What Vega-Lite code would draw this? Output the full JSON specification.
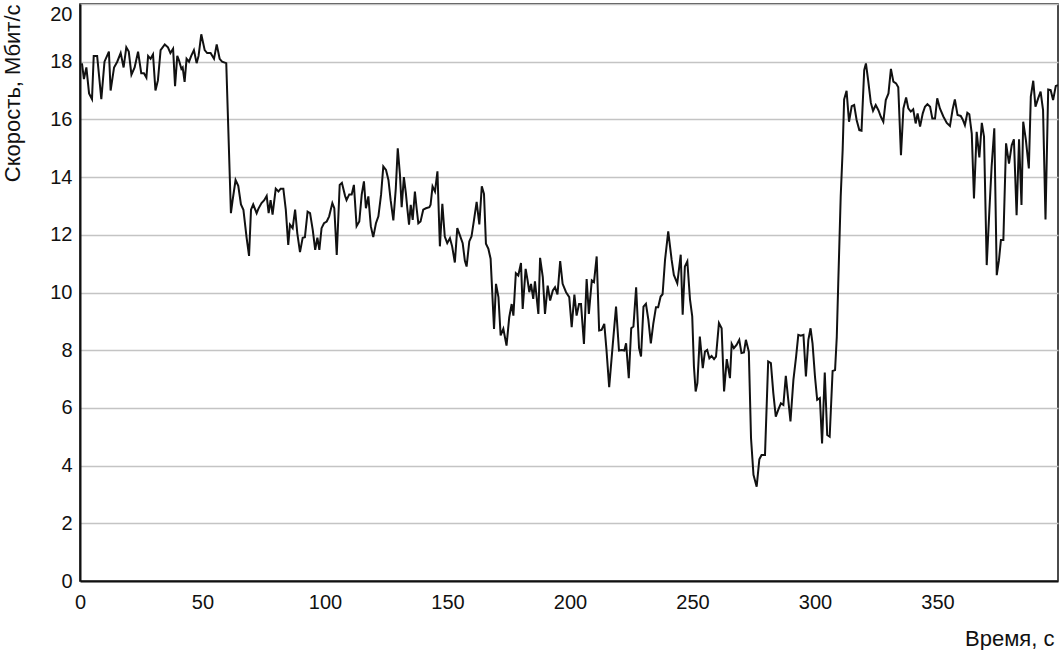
{
  "$schema": "https://vega.github.io/schema/vega-lite/v6.json",
  "width": 978,
  "height": 577,
  "autosize": {"type": "none"},
  "padding": {"left": 80, "top": 4, "right": 3, "bottom": 69},
  "background": "white",
  "config": {
    "view": {"stroke": "#111", "strokeWidth": 1.5},
    "font": "Liberation Sans",
    "axis": {"labelFont": "Liberation Sans", "titleFont": "Liberation Sans", "labelFontSize": 20, "titleFontSize": 22, "labelColor": "#111", "titleColor": "#111", "titleFontWeight": "normal", "ticks": false, "gridColor": "#c4c4c4", "gridWidth": 1.5, "domainColor": "#111", "domainWidth": 2, "labelFlush": false, "labelOverlap": false}
  },
  "data": {"values": [
    {"t":0.8,"v":17.94},{"t":1.6,"v":17.4},{"t":2.6,"v":17.8},{"t":3.7,"v":16.9},{"t":4.9,"v":16.7},{"t":5.6,"v":18.2},{"t":7,"v":18.2},{"t":8.7,"v":16.7},{"t":10,"v":18},{"t":11.8,"v":18.35},{"t":12.5,"v":17},{"t":13.9,"v":17.8},{"t":15.2,"v":18},{"t":16.6,"v":18.3},{"t":17.8,"v":17.8},{"t":18.9,"v":18.5},{"t":19.9,"v":18.35},{"t":21,"v":17.55},{"t":22.3,"v":17.8},{"t":23.7,"v":18.35},{"t":25,"v":17.6},{"t":26.1,"v":17.6},{"t":27.1,"v":17.45},{"t":27.8,"v":18.2},{"t":28.8,"v":18.1},{"t":29.8,"v":18.25},{"t":30.8,"v":17},{"t":31.8,"v":17.35},{"t":32.9,"v":18.4},{"t":34.6,"v":18.6},{"t":35.9,"v":18.5},{"t":36.9,"v":18.3},{"t":38,"v":18.45},{"t":38.8,"v":17.15},{"t":39.7,"v":18.2},{"t":40.4,"v":18.05},{"t":41.4,"v":17.75},{"t":41.9,"v":17.8},{"t":42.7,"v":17.3},{"t":43.5,"v":18.1},{"t":44.5,"v":18},{"t":45.4,"v":18.2},{"t":46.5,"v":18.4},{"t":47.6,"v":17.95},{"t":48.4,"v":18.2},{"t":49.5,"v":18.95},{"t":50.9,"v":18.4},{"t":51.9,"v":18.3},{"t":53.3,"v":18.3},{"t":54.7,"v":18.1},{"t":55.8,"v":18.6},{"t":57,"v":18.1},{"t":58,"v":18},{"t":59.7,"v":17.95},
    {"t":61.6,"v":12.75},{"t":62.3,"v":13.2},{"t":63.5,"v":13.9},{"t":64.6,"v":13.7},{"t":65.7,"v":13.05},{"t":66.7,"v":12.87},{"t":68,"v":11.9},{"t":69,"v":11.27},{"t":69.8,"v":12.87},{"t":70.7,"v":13.05},{"t":72.1,"v":12.75},{"t":72.8,"v":12.9},{"t":74.1,"v":13.1},{"t":75.2,"v":13.2},{"t":76.2,"v":13.35},{"t":77,"v":12.75},{"t":77.8,"v":13.2},{"t":78.6,"v":12.7},{"t":79.9,"v":13.6},{"t":81,"v":13.5},{"t":81.9,"v":13.6},{"t":83,"v":13.6},{"t":84,"v":12.87},{"t":85,"v":11.65},{"t":85.7,"v":12.35},{"t":86.8,"v":12.23},{"t":87.8,"v":12.87},{"t":88.7,"v":12.05},{"t":89.8,"v":11.4},{"t":90.9,"v":11.9},{"t":91.8,"v":11.92},{"t":92.9,"v":12.8},{"t":93.9,"v":12.75},{"t":95,"v":12.17},{"t":96,"v":11.48},{"t":96.9,"v":11.9},{"t":97.7,"v":11.48},{"t":98.6,"v":12.23},{"t":99.6,"v":12.4},{"t":100.7,"v":12.46},{"t":101.7,"v":12.64},{"t":103,"v":13.1},{"t":103.8,"v":12.92},{"t":104.8,"v":11.3},{"t":106,"v":13.73},{"t":106.9,"v":13.8},{"t":108.2,"v":13.35},{"t":108.8,"v":13.2},{"t":109.9,"v":13.4},{"t":110.9,"v":13.4},{"t":111.8,"v":13.73},{"t":112.9,"v":12.3},{"t":114,"v":12.46},{"t":115,"v":13.4},{"t":115.9,"v":13.85},{"t":116.7,"v":12.92},{"t":117.7,"v":13.33},{"t":118.7,"v":12.3},{"t":119.7,"v":11.92},{"t":120.8,"v":12.4},{"t":121.8,"v":12.64},{"t":122.9,"v":13.4},{"t":123.8,"v":14.37},{"t":124.9,"v":14.25},{"t":125.9,"v":13.9},{"t":126.8,"v":13.2},{"t":127.9,"v":12.5},{"t":128.9,"v":13.6},{"t":129.7,"v":15},{"t":130.6,"v":14.08},{"t":131.3,"v":12.96},{"t":132.2,"v":14},{"t":133,"v":13.45},{"t":133.6,"v":12.92},{"t":134.3,"v":12.35},{"t":135,"v":13.04},{"t":135.8,"v":12.52},{"t":136.7,"v":13.5},{"t":137.4,"v":12.92},{"t":138.1,"v":12.4},{"t":139,"v":12.46},{"t":140.1,"v":12.87},{"t":141.2,"v":12.92},{"t":142.6,"v":12.96},{"t":143.1,"v":13.04},{"t":143.9,"v":13.68},{"t":144.9,"v":13.5},{"t":145.9,"v":14.2},{"t":146.9,"v":11.6},{"t":147.9,"v":13.07},{"t":148.9,"v":11.94},{"t":149.9,"v":11.71},{"t":151,"v":11.88},{"t":151.9,"v":11.6},{"t":153,"v":11.04},{"t":154,"v":12.23},{"t":155,"v":12},{"t":156.2,"v":11.71},{"t":157.1,"v":11.1},{"t":157.8,"v":10.9},{"t":158.9,"v":11.77},{"t":159.8,"v":11.94},{"t":160.8,"v":12.5},{"t":161.9,"v":13.14},{"t":163,"v":12.36},{"t":164,"v":13.68},{"t":164.9,"v":13.42},{"t":165.7,"v":11.69},{"t":166.7,"v":11.51},{"t":167.6,"v":11.17},{"t":169,"v":8.74},{"t":169.8,"v":10.3},{"t":170.8,"v":9.84},{"t":171.7,"v":8.51},{"t":172.8,"v":8.74},{"t":174.1,"v":8.16},{"t":175.2,"v":9.14},{"t":176.2,"v":9.6},{"t":176.9,"v":9.2},{"t":177.9,"v":10.67},{"t":178.9,"v":10.59},{"t":180,"v":11.02},{"t":180.7,"v":9.43},{"t":181.9,"v":10.82},{"t":182.7,"v":10.42},{"t":183.4,"v":10.01},{"t":184.1,"v":10.3},{"t":185,"v":9.78},{"t":185.7,"v":10.39},{"t":187.1,"v":9.26},{"t":187.8,"v":11.2},{"t":188.9,"v":10.53},{"t":189.8,"v":9.26},{"t":190.9,"v":10.24},{"t":191.9,"v":9.72},{"t":193,"v":10.07},{"t":193.9,"v":10.18},{"t":194.9,"v":9.93},{"t":196,"v":11.09},{"t":197,"v":10.3},{"t":198.4,"v":10.01},{"t":199.7,"v":9.84},{"t":200.7,"v":8.8},{"t":201.8,"v":9.93},{"t":202.7,"v":9.2},{"t":203.7,"v":9.6},{"t":204.5,"v":9.6},{"t":205.7,"v":8.22},{"t":206.8,"v":10.47},{"t":207.7,"v":9.26},{"t":208.9,"v":10.42},{"t":209.8,"v":10.36},{"t":210.9,"v":11.25},{"t":211.9,"v":8.68},{"t":212.9,"v":8.7},{"t":214,"v":8.91},{"t":214.9,"v":8.01},{"t":216,"v":6.72},{"t":217.4,"v":8.13},{"t":218.8,"v":9.51},{"t":220,"v":7.99},{"t":221.1,"v":8.01},{"t":222.2,"v":7.99},{"t":222.9,"v":8.24},{"t":224,"v":7.03},{"t":225,"v":8.76},{"t":225.9,"v":8.82},{"t":227,"v":10.18},{"t":228.2,"v":8.07},{"t":229,"v":7.78},{"t":230,"v":9.51},{"t":231,"v":9.61},{"t":232,"v":9.05},{"t":233,"v":8.24},{"t":234,"v":8.91},{"t":235.1,"v":9.49},{"t":236,"v":9.49},{"t":237,"v":9.86},{"t":237.8,"v":9.94},{"t":238.8,"v":11.13},{"t":240.1,"v":12.12},{"t":241.5,"v":11.13},{"t":242.4,"v":10.61},{"t":243.8,"v":10.32},{"t":245.2,"v":11.31},{"t":246,"v":9.23},{"t":246.9,"v":10.9},{"t":247.9,"v":11.08},{"t":249,"v":9.75},{"t":249.9,"v":9.17},{"t":250.6,"v":7.43},{"t":251.3,"v":6.57},{"t":252,"v":6.86},{"t":253,"v":8.47},{"t":254.2,"v":7.38},{"t":255.1,"v":7.95},{"t":256,"v":8.01},{"t":256.9,"v":7.72},{"t":257.8,"v":7.8},{"t":258.8,"v":7.69},{"t":259.6,"v":7.78},{"t":260.8,"v":8.94},{"t":261.9,"v":8.76},{"t":262.9,"v":6.57},{"t":264,"v":7.69},{"t":265.3,"v":7.03},{"t":266,"v":8.22},{"t":266.9,"v":8.07},{"t":268,"v":8.18},{"t":269.1,"v":8.36},{"t":270,"v":7.9},{"t":271,"v":7.92},{"t":271.8,"v":8.36},{"t":273,"v":7.95},{"t":273.9,"v":4.95},{"t":274.9,"v":3.68},{"t":276.2,"v":3.27},{"t":277.3,"v":4.22},{"t":278.2,"v":4.37},{"t":279.6,"v":4.37},{"t":280.9,"v":7.61},{"t":282,"v":7.55},{"t":283,"v":6.51},{"t":284,"v":5.7},{"t":285,"v":5.93},{"t":286.1,"v":6.16},{"t":287.1,"v":6.1},{"t":288.1,"v":7.11},{"t":289.1,"v":6.28},{"t":290,"v":5.53},{"t":291.2,"v":6.97},{"t":292.3,"v":7.78},{"t":293.2,"v":8.53},{"t":294.2,"v":8.5},{"t":295.3,"v":8.53},{"t":296.3,"v":7.09},{"t":297.3,"v":8.36},{"t":298.2,"v":8.76},{"t":299,"v":8.24},{"t":300,"v":7.09},{"t":300.9,"v":6.28},{"t":302,"v":6.34},{"t":302.9,"v":4.77},{"t":304,"v":7.23},{"t":305,"v":5.06},{"t":306,"v":5.0},{"t":307.2,"v":7.28},{"t":308.2,"v":7.31},{"t":308.9,"v":8.46},{"t":309.5,"v":10.31},{"t":310.5,"v":13.32},{"t":311.3,"v":14.94},{"t":311.9,"v":16.69},{"t":312.9,"v":16.99},{"t":313.9,"v":15.92},{"t":315,"v":16.46},{"t":316,"v":16.5},{"t":317,"v":15.98},{"t":318.1,"v":15.63},{"t":319,"v":15.61},{"t":320.1,"v":17.71},{"t":320.8,"v":17.94},{"t":321.7,"v":17.36},{"t":322.8,"v":16.58},{"t":323.7,"v":16.3},{"t":324.8,"v":16.5},{"t":325.9,"v":16.32},{"t":326.9,"v":16.09},{"t":327.9,"v":15.92},{"t":328.9,"v":16.67},{"t":330,"v":16.9},{"t":331,"v":17.75},{"t":332,"v":17.31},{"t":333.1,"v":17.25},{"t":334,"v":17.11},{"t":335.1,"v":14.76},{"t":336.1,"v":16.38},{"t":337.2,"v":16.76},{"t":338.1,"v":16.38},{"t":339.1,"v":16.27},{"t":340.1,"v":16.35},{"t":341.1,"v":15.86},{"t":341.9,"v":16.21},{"t":342.9,"v":15.75},{"t":344,"v":16.21},{"t":344.9,"v":16.44},{"t":345.9,"v":16.53},{"t":347,"v":16.44},{"t":347.9,"v":16.03},{"t":349,"v":16.03},{"t":349.9,"v":16.73},{"t":351,"v":16.38},{"t":352.4,"v":16.1},{"t":353.8,"v":15.88},{"t":355.1,"v":15.77},{"t":356.2,"v":16.35},{"t":357.1,"v":16.69},{"t":358.2,"v":16.15},{"t":359.5,"v":16.12},{"t":360.3,"v":16},{"t":361.2,"v":15.8},{"t":362.2,"v":16.23},{"t":363,"v":16.18},{"t":364,"v":15.51},{"t":364.9,"v":13.26},{"t":366,"v":15.57},{"t":367.1,"v":14.68},{"t":368.1,"v":15.88},{"t":369,"v":15.4},{"t":370.1,"v":10.95},{"t":371.2,"v":12.86},{"t":372.1,"v":14.36},{"t":373.2,"v":15.69},{"t":374.2,"v":10.6},{"t":375.1,"v":11.12},{"t":375.9,"v":11.82},{"t":376.9,"v":11.82},{"t":378,"v":15.17},{"t":379.2,"v":14.47},{"t":380.3,"v":15.1},{"t":381.2,"v":15.31},{"t":382.3,"v":12.68},{"t":383.3,"v":15.31},{"t":384.3,"v":13.03},{"t":385,"v":15.92},{"t":386.1,"v":15.28},{"t":387.3,"v":14.3},{"t":388.1,"v":16.79},{"t":389.1,"v":17.34},{"t":390,"v":16.44},{"t":391.1,"v":16.73},{"t":392.1,"v":16.96},{"t":393.1,"v":16.32},{"t":394.1,"v":12.53},{"t":395.2,"v":17.04},{"t":396.2,"v":17.02},{"t":397.2,"v":16.67},{"t":398.3,"v":17.16},{"t":399.2,"v":17.19}
  ]},
  "mark": {"type": "line", "color": "#111", "strokeWidth": 2, "clip": true, "strokeJoin": "miter"},
  "encoding": {
    "x": {"field": "t", "type": "quantitative", "scale": {"domain": [0, 399.2], "nice": false, "zero": false},
      "axis": {"values": [0, 50, 100, 150, 200, 250, 300, 350], "grid": false, "labelPadding": 11, "title": "Время, с", "titleAnchor": "end", "titleAlign": "right", "titleX": 974, "titleY": 57, "titleBaseline": "middle"}},
    "y": {"field": "v", "type": "quantitative", "scale": {"domain": [0, 20], "nice": false},
      "axis": {"values": [0, 2, 4, 6, 8, 10, 12, 14, 16, 18, 20], "grid": true, "labelPadding": 8, "labelBaseline": {"condition": {"test": "datum.value === 20", "value": "top"}, "value": "middle"}, "title": "Скорость, Мбит/с", "titleAngle": -90, "titleAlign": "right", "titleBaseline": "middle", "titleX": -68, "titleY": 0}}
  }
}
